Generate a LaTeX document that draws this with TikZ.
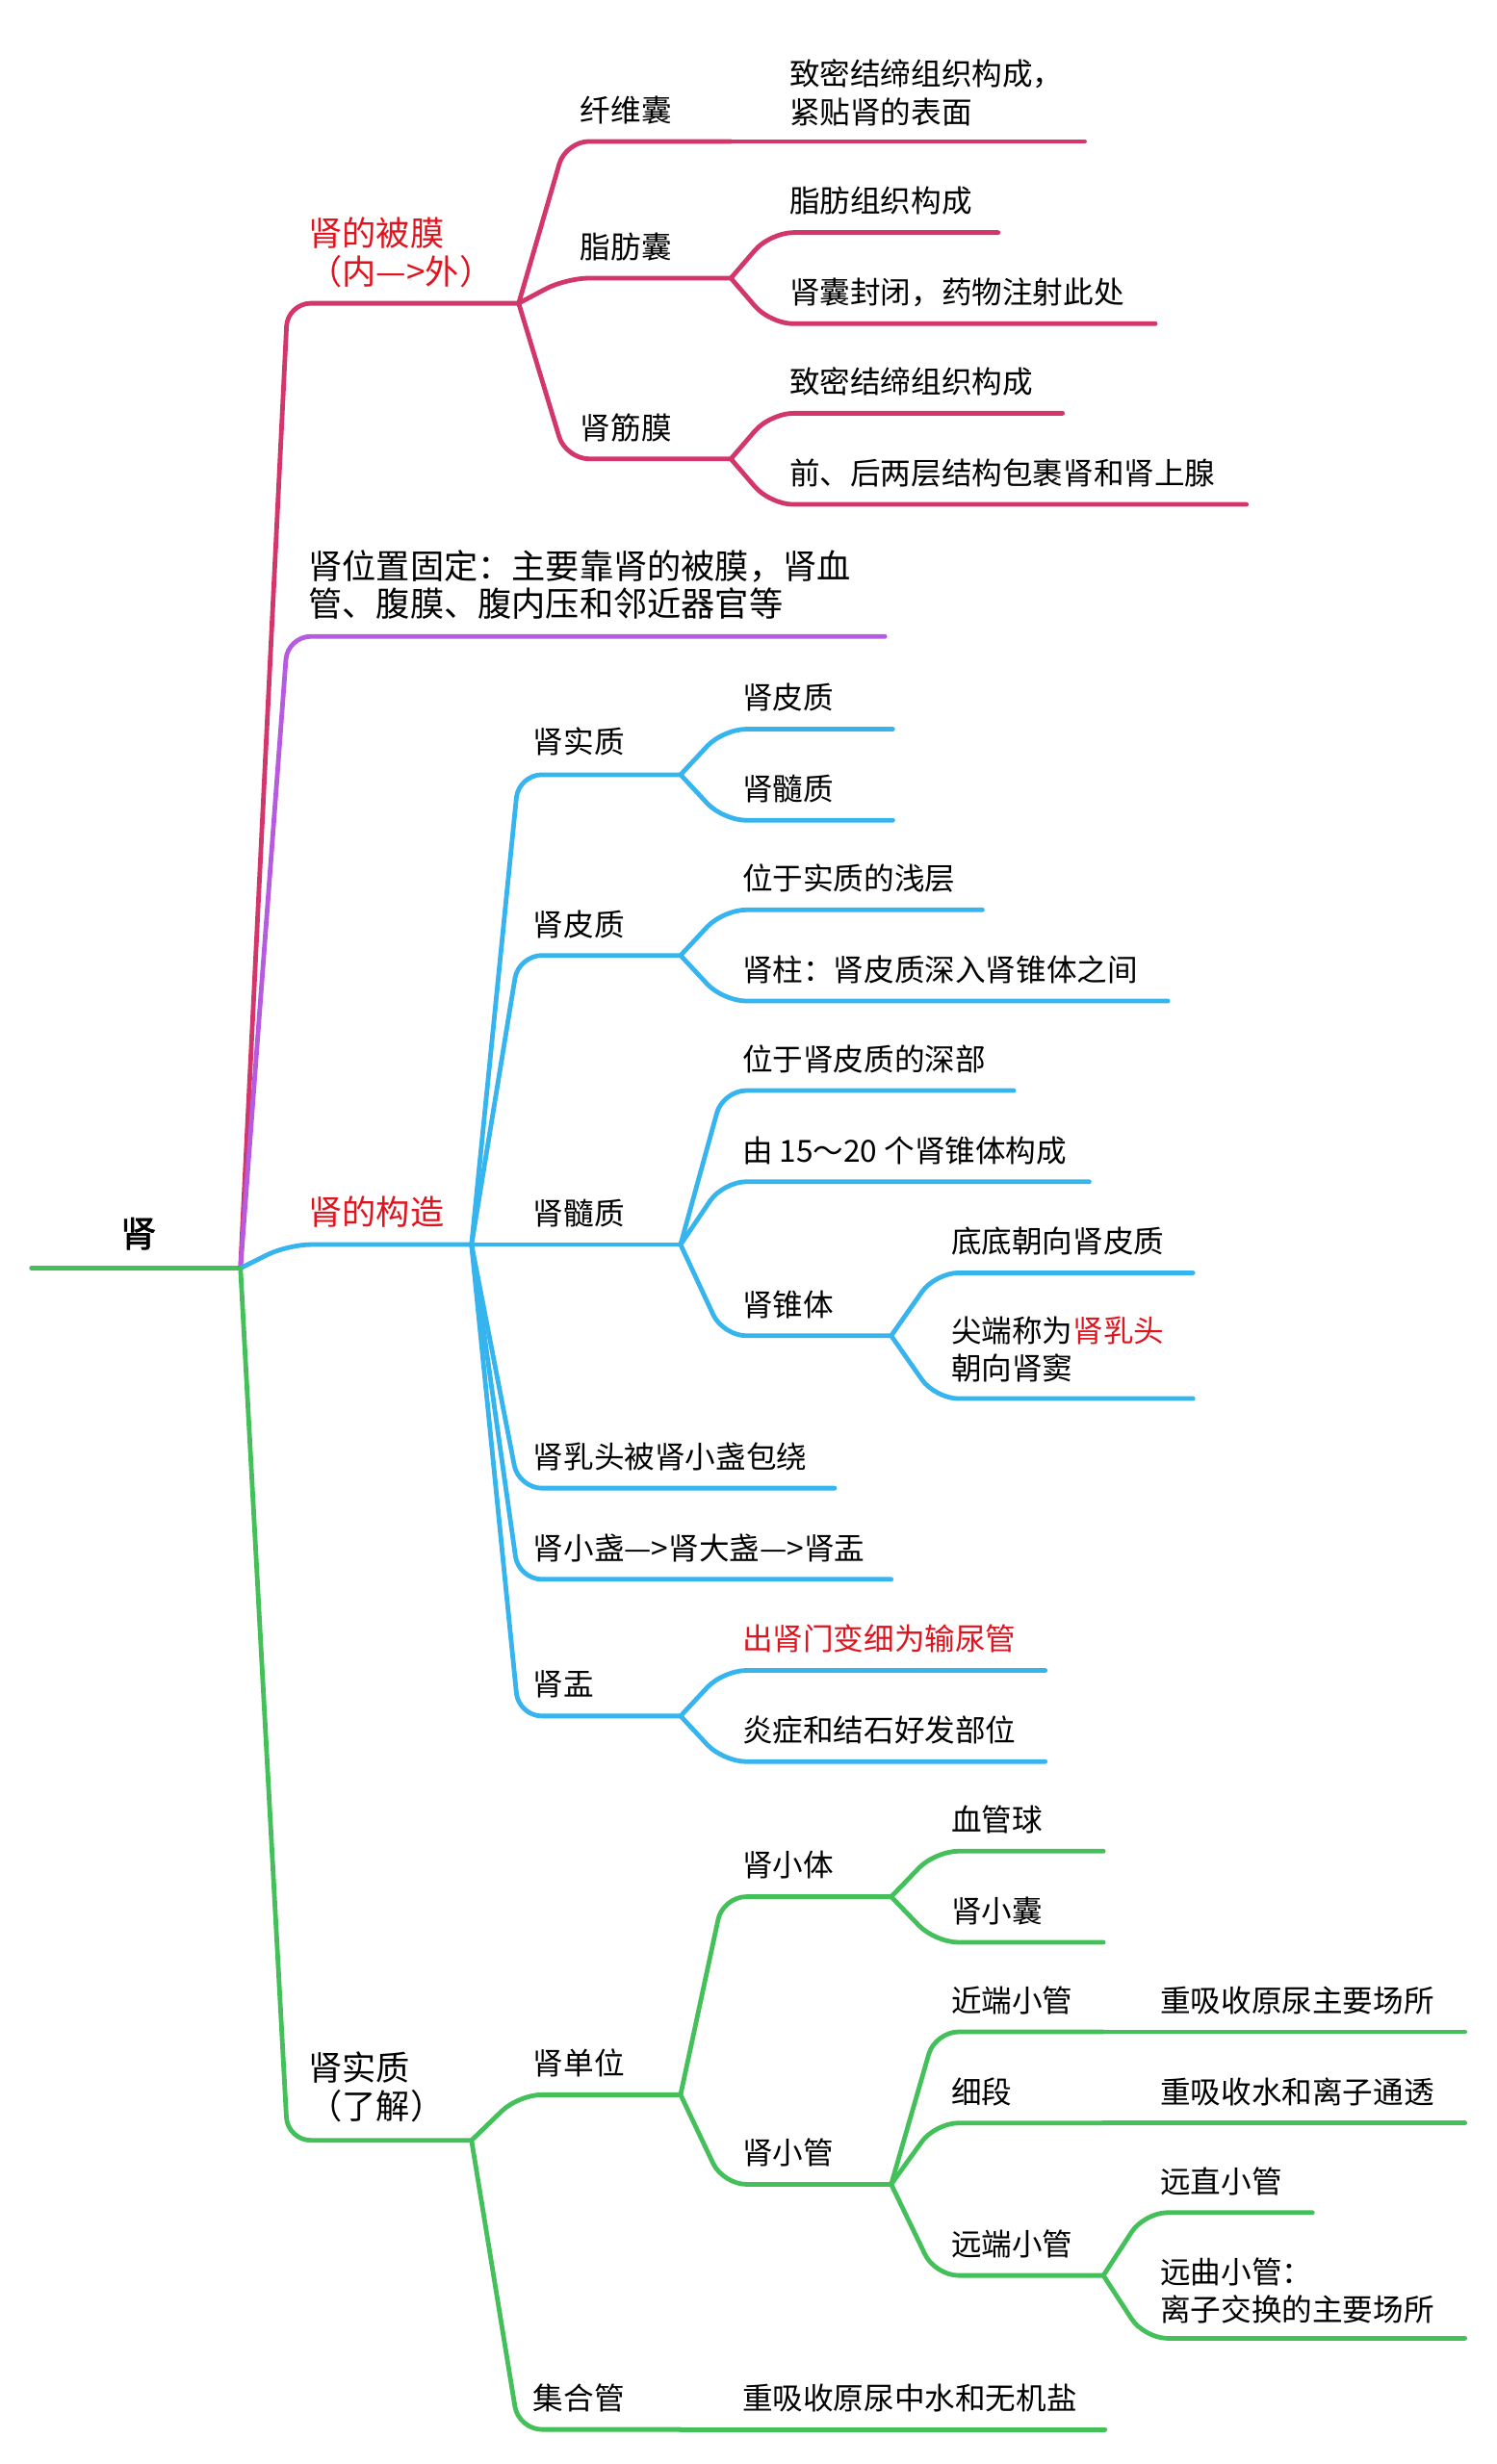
\documentclass[tikz,border=0pt]{standalone}
\usepackage{fontspec}
\setmainfont{Noto Sans CJK SC}
\newfontfamily\rootfont[FakeBold=2]{Noto Sans CJK SC}
\definecolor{cA}{RGB}{211,54,106}
\definecolor{cB}{RGB}{182,91,224}
\definecolor{cC}{RGB}{53,180,238}
\definecolor{cD}{RGB}{68,192,90}
\definecolor{txtred}{RGB}{224,20,30}
% name, parent, colour, corner x, y, end x, text x, text y, text
\newcommand\topic[9]{%
  \coordinate (#1-c) at (#4,#5);
  \coordinate (#1-e) at (#6,#5);
  \draw[br,#3] (#2-e) -- (#1-c) -- (#1-e);
  \node[lbl] (#1) at (#7,#8) {#9};
}
% main topic (larger text)
\newcommand\topicL[9]{%
  \coordinate (#1-c) at (#4,#5);
  \coordinate (#1-e) at (#6,#5);
  \draw[br,#3] (#2-e) -- (#1-c) -- (#1-e);
  \node[lbl,lbig] (#1) at (#7,#8) {#9};
}
% straight continuation: name, parent, colour, end x, y, text x, text y, text
\newcommand\topicS[8]{%
  \coordinate (#1-e) at (#4,#5);
  \draw[br,#3] (#2-e) -- (#1-e);
  \node[lbl] (#1) at (#6,#7) {#8};
}
\begin{document}
\begin{tikzpicture}[x=0.8162pt,y=-0.8162pt,
  lbl/.style={anchor=west,inner sep=0pt,font=\fontsize{15.8}{19.6}\selectfont,align=left},
  lbig/.style={font=\fontsize{17.6}{19.8}\selectfont},
  br/.style={line width=2.4pt,line cap=round,line join=round,rounded corners=12pt},
]
\useasboundingbox (0,0) rectangle (952,1568);
\fill[white] (0,0) rectangle (952,1568);

% root
\coordinate (R-s) at (20,807);
\coordinate (R-e) at (153,807);
\draw[br,cD] (R-s) -- (R-e);
\node[inner sep=0pt,font=\rootfont\fontsize{18.5}{22}\selectfont] (R) at (88,785) {肾};

% A: 肾的被膜
\topicL{A}{R}{cA}{183}{193}{330}{196}{160.5}{\color{txtred}肾的被膜\\\color{txtred}（内—>外）}
\topic{A1}{A}{cA}{360}{90}{465}{369}{70}{纤维囊}
\topicS{A1a}{A1}{cA}{690}{90}{502}{59}{致密结缔组织构成，\\紧贴肾的表面}
\topic{A2}{A}{cA}{360}{177}{465}{369}{157}{脂肪囊}
\topic{A2a}{A2}{cA}{490}{148}{635}{502}{128}{脂肪组织构成}
\topic{A2b}{A2}{cA}{490}{206}{735}{502}{186}{肾囊封闭，药物注射此处}
\topic{A3}{A}{cA}{360}{292}{465}{369}{272}{肾筋膜}
\topic{A3a}{A3}{cA}{490}{263}{676}{502}{243}{致密结缔组织构成}
\topic{A3b}{A3}{cA}{490}{321}{793}{502}{301}{前、后两层结构包裹肾和肾上腺}

% B
\topicL{B}{R}{cB}{183}{405}{563}{196}{372}{肾位置固定：主要靠肾的被膜，肾血\\管、腹膜、腹内压和邻近器官等}

% C: 肾的构造
\topicL{C}{R}{cC}{183}{792}{300}{196}{771}{\color{txtred}肾的构造}
\topic{C1}{C}{cC}{330}{493}{433}{339}{472}{肾实质}
\topic{C1a}{C1}{cC}{460}{464}{568}{472}{444}{肾皮质}
\topic{C1b}{C1}{cC}{460}{522}{568}{472}{502}{肾髓质}
\topic{C2}{C}{cC}{330}{608}{433}{339}{588}{肾皮质}
\topic{C2a}{C2}{cC}{460}{579}{625}{472}{559}{位于实质的浅层}
\topic{C2b}{C2}{cC}{460}{637}{743}{472}{617}{肾柱：肾皮质深入肾锥体之间}
\topic{C3}{C}{cC}{330}{792}{433}{339}{772}{肾髓质}
\topic{C3a}{C3}{cC}{460}{694}{645}{472}{674}{位于肾皮质的深部}
\topic{C3b}{C3}{cC}{460}{752}{693}{472}{732}{由 15～20 个肾锥体构成}
\topic{C3c}{C3}{cC}{460}{850}{567}{472}{830}{肾锥体}
\topic{C3ca}{C3c}{cC}{595}{810}{759}{605}{790}{底底朝向肾皮质}
\topic{C3cb}{C3c}{cC}{595}{890}{759}{605}{858.5}{尖端称为{\color{txtred}肾乳头}\\朝向肾窦}
\topic{C4}{C}{cC}{330}{947}{531}{339}{927}{肾乳头被肾小盏包绕}
\topic{C5}{C}{cC}{330}{1005}{567}{339}{985}{肾小盏—>肾大盏—>肾盂}
\topic{C6}{C}{cC}{330}{1092}{433}{339}{1072}{肾盂}
\topic{C6a}{C6}{cC}{460}{1063}{665}{472}{1043}{\color{txtred}出肾门变细为输尿管}
\topic{C6b}{C6}{cC}{460}{1121}{665}{472}{1101}{炎症和结石好发部位}

% D: 肾实质
\topicL{D}{R}{cD}{183}{1362}{300}{196}{1328}{肾实质\\（了解）}
\topic{D1}{D}{cD}{330}{1333}{433}{339}{1313}{肾单位}
\topic{D1a}{D1}{cD}{460}{1207}{567}{472}{1187}{肾小体}
\topic{D1aa}{D1a}{cD}{595}{1178}{702}{605}{1158}{血管球}
\topic{D1ab}{D1a}{cD}{595}{1236}{702}{605}{1216}{肾小囊}
\topic{D1b}{D1}{cD}{460}{1390}{567}{472}{1370}{肾小管}
\topic{D1ba}{D1b}{cD}{595}{1293}{702}{605}{1273}{近端小管}
\topicS{D1baa}{D1ba}{cD}{932}{1293}{738}{1273}{重吸收原尿主要场所}
\topic{D1bb}{D1b}{cD}{595}{1351}{702}{605}{1331}{细段}
\topicS{D1bba}{D1bb}{cD}{932}{1351}{738}{1331}{重吸收水和离子通透}
\topic{D1bc}{D1b}{cD}{595}{1448}{702}{605}{1428}{远端小管}
\topic{D1bca}{D1bc}{cD}{728}{1408}{835}{738}{1388}{远直小管}
\topic{D1bcb}{D1bc}{cD}{728}{1488}{932}{738}{1457.5}{远曲小管：\\离子交换的主要场所}
\topic{D2}{D}{cD}{330}{1546}{433}{339}{1526}{集合管}
\topicS{D2a}{D2}{cD}{703}{1546}{472}{1526}{重吸收原尿中水和无机盐}
\end{tikzpicture}
\end{document}
